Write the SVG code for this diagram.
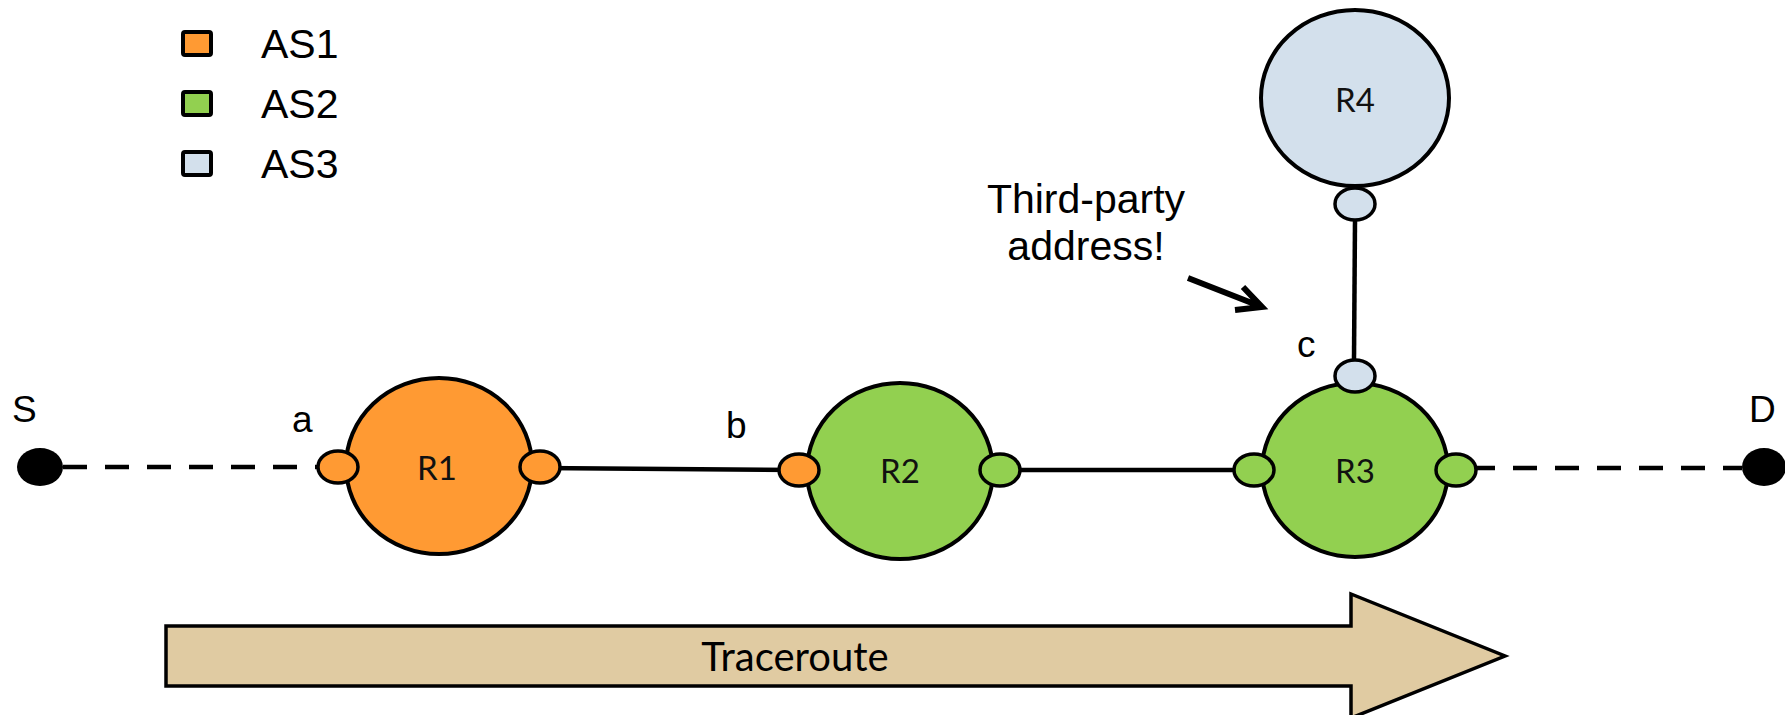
<svg xmlns="http://www.w3.org/2000/svg" width="1785" height="715" viewBox="0 0 1785 715">
<defs>
<style>
.as1{fill:#FF9A33}
.as2{fill:#92D050}
.as3{fill:#D3E0EC}
.router{stroke:#000;stroke-width:4}
.port{stroke:#000;stroke-width:3.5}
.host{fill:#000}
.link{stroke:#000;stroke-width:4.5;fill:none}
.dash{stroke-dasharray:24 18}
.lbl{font-family:"Liberation Sans",Arial,sans-serif;font-size:37px;fill:#000}
.leg{font-family:"Liberation Sans",Arial,sans-serif;font-size:41px;fill:#000}
.rname{font-family:Lato,"DejaVu Sans",sans-serif;font-size:33px;fill:#111;text-anchor:middle}
.legbox{stroke:#000;stroke-width:4}
</style>
</defs>
<rect width="1785" height="715" fill="#fff"/>

<g id="legend">
<rect class="legbox as1" x="183" y="32" width="28" height="23" rx="2"/>
<rect class="legbox as2" x="183" y="92" width="28" height="23" rx="2"/>
<rect class="legbox as3" x="183" y="152" width="28" height="23" rx="2"/>
<text class="leg" x="261" y="58">AS1</text>
<text class="leg" x="261" y="118">AS2</text>
<text class="leg" x="261" y="178">AS3</text>
</g>

<g id="connectors">
<line class="link dash" x1="63" y1="467" x2="317" y2="467"/>
<line class="link" x1="540" y1="468" x2="799" y2="470"/>
<line class="link" x1="1000" y1="470" x2="1254" y2="470"/>
<line class="link dash" x1="1477" y1="468" x2="1742" y2="468" style="stroke-dashoffset:6"/>
<line class="link" x1="1355" y1="220" x2="1354" y2="360"/>
</g>

<g id="node-S">
<ellipse class="host" cx="40" cy="467" rx="23" ry="19"/>
<text class="lbl" x="12" y="422">S</text>
</g>

<g id="node-D">
<ellipse class="host" cx="1764" cy="467" rx="22" ry="19"/>
<text class="lbl" x="1749" y="422">D</text>
</g>

<g id="node-R1">
<ellipse class="router as1" cx="439" cy="466" rx="93" ry="88"/>
<ellipse class="port as1" cx="338" cy="467" rx="20" ry="16"/>
<ellipse class="port as1" cx="540" cy="467" rx="20" ry="16"/>
<text class="rname" x="437" y="480">R1</text>
<text class="lbl" x="292" y="432">a</text>
</g>

<g id="node-R2">
<ellipse class="router as2" cx="900" cy="471" rx="93" ry="88"/>
<ellipse class="port as1" cx="799" cy="470" rx="20" ry="16"/>
<ellipse class="port as2" cx="1000" cy="470" rx="20" ry="16"/>
<text class="rname" x="900" y="483">R2</text>
<text class="lbl" x="726" y="438">b</text>
</g>

<g id="node-R3">
<ellipse class="router as2" cx="1355" cy="470" rx="93" ry="87"/>
<ellipse class="port as2" cx="1254" cy="470" rx="20" ry="16"/>
<ellipse class="port as2" cx="1456" cy="470" rx="20" ry="16"/>
<ellipse class="port as3" cx="1355" cy="376" rx="20" ry="16"/>
<text class="rname" x="1355" y="483">R3</text>
<text class="lbl" x="1297" y="357">c</text>
</g>

<g id="node-R4">
<ellipse class="router as3" cx="1355" cy="98" rx="94" ry="88"/>
<ellipse class="port as3" cx="1355" cy="204" rx="20" ry="16"/>
<text class="rname" x="1355" y="112">R4</text>
</g>

<g id="annotation">
<text class="leg" x="1086" y="213" text-anchor="middle">Third-party</text>
<text class="leg" x="1086" y="260" text-anchor="middle">address!</text>
<path d="M1188,278 L1257,305 M1243,287 L1262,307 L1235,310" fill="none" stroke="#000" stroke-width="6" stroke-linejoin="miter"/>
</g>

<g id="traceroute">
<path d="M166,626 L1351,626 L1351,594 L1505,656 L1351,718 L1351,686 L166,686 Z" fill="#E0CBA2" stroke="#000" stroke-width="3.5"/>
<text x="795" y="671" font-family="Lato,'DejaVu Sans',sans-serif" font-size="40" fill="#000" text-anchor="middle">Traceroute</text>
</g>
</svg>
